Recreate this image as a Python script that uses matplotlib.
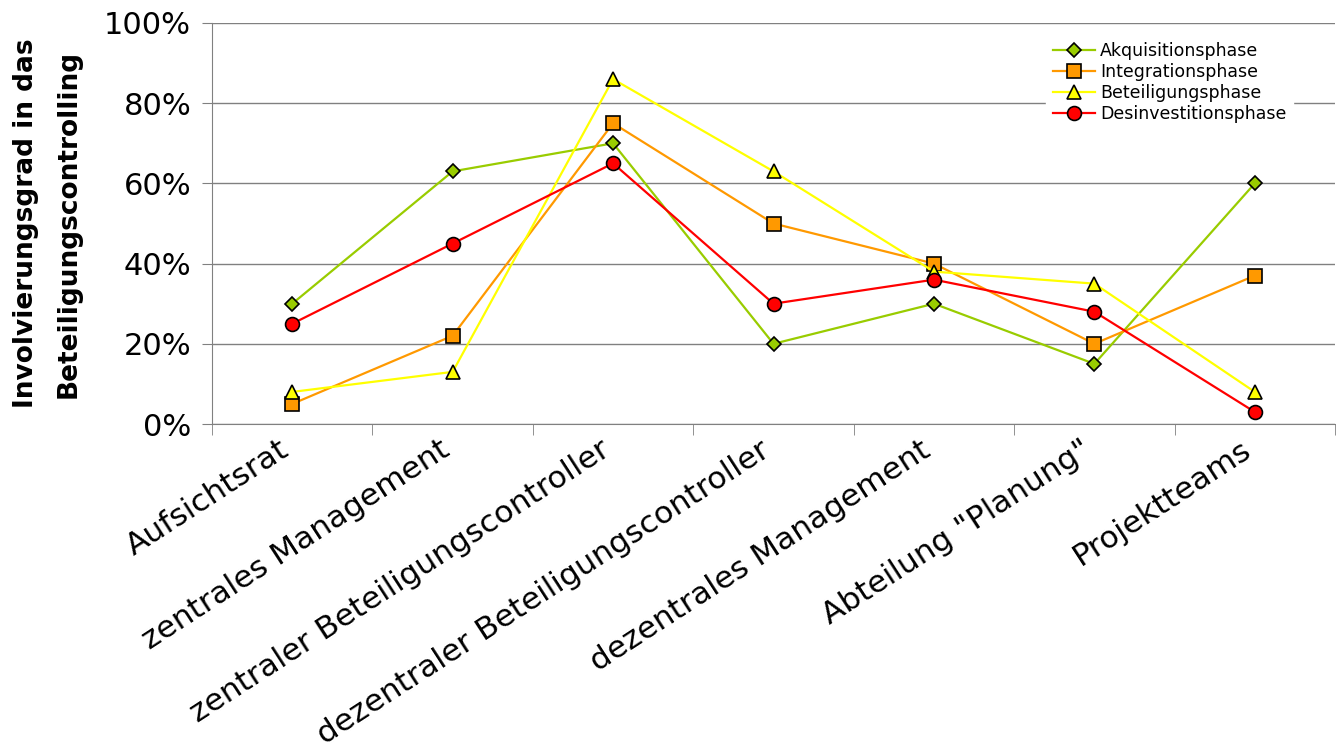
import matplotlib.pyplot as plt
import matplotlib.transforms as mtransforms
from matplotlib.ticker import PercentFormatter, FixedLocator

categories = [
    "Aufsichtsrat",
    "zentrales Management",
    "zentraler Beteiligungscontroller",
    "dezentraler Beteiligungscontroller",
    "dezentrales Management",
    'Abteilung "Planung"',
    "Projektteams",
]
akquisition = [30, 63, 70, 20, 30, 15, 60]
integration = [5, 22, 75, 50, 40, 20, 37]
beteiligung = [8, 13, 86, 63, 38, 35, 8]
desinvestition = [25, 45, 65, 30, 36, 28, 3]

series = [
    ("Akquisitionsphase", akquisition, "#99CC00", "D", 7),
    ("Integrationsphase", integration, "#FF9900", "s", 10),
    ("Beteiligungsphase", beteiligung, "#FFFF00", "^", 10),
    ("Desinvestitionsphase", desinvestition, "#FF0000", "o", 10),
]

fig = plt.figure(figsize=(13.36, 7.51), dpi=100)
ax = fig.add_axes([212 / 1336, 1 - 424 / 751, (1335 - 212) / 1336, (424 - 23) / 751])

x = list(range(len(categories)))
for name, vals, color, marker, ms in series:
    ax.plot(x, [v / 100 for v in vals], color=color, lw=1.6, marker=marker,
            markersize=ms, markerfacecolor=color, markeredgecolor="black",
            markeredgewidth=1.2, label=name, zorder=3)

ax.set_xlim(-0.5, len(categories) - 0.5)
ax.set_ylim(0, 1)
ax.set_yticks([0, 0.2, 0.4, 0.6, 0.8, 1.0])
ax.yaxis.set_major_formatter(PercentFormatter(1.0, decimals=0))
ax.grid(axis="y", color="#808080", lw=1.0)
ax.set_axisbelow(True)

ax.set_xticks(x)
ax.set_xticklabels(categories, rotation=33, ha="right", rotation_mode="anchor",
                   fontsize=22.5)
ax.tick_params(axis="x", length=0, pad=8)
# shift category labels a little to the left of their tick position
shift = mtransforms.ScaledTranslation(-14 / 100, 0, fig.dpi_scale_trans)
for lbl in ax.get_xticklabels():
    lbl.set_transform(lbl.get_transform() + shift)
ax.xaxis.set_minor_locator(FixedLocator([i + 0.5 for i in range(-1, len(categories))]))
ax.tick_params(axis="x", which="minor", length=8, color="#808080", direction="out")
ax.tick_params(axis="y", labelsize=22, length=7, color="#808080", pad=8)

for side in ["top", "right"]:
    ax.spines[side].set_visible(False)
for side in ["left", "bottom"]:
    ax.spines[side].set_color("#808080")

ax.set_ylabel("Involvierungsgrad in das\nBeteiligungscontrolling", fontsize=19,
              fontweight="bold", labelpad=16, linespacing=1.85)

leg = ax.legend(loc="upper right", bbox_to_anchor=(0.963, 0.97), frameon=True,
                fontsize=12.5, handlelength=2.4, handletextpad=0.3,
                labelspacing=0.18, borderpad=0.4, borderaxespad=0.0)
leg.get_frame().set_edgecolor("white")
leg.get_frame().set_facecolor("white")
leg.get_frame().set_alpha(1)
leg.set_zorder(5)

fig.savefig("out.png", dpi=100)
